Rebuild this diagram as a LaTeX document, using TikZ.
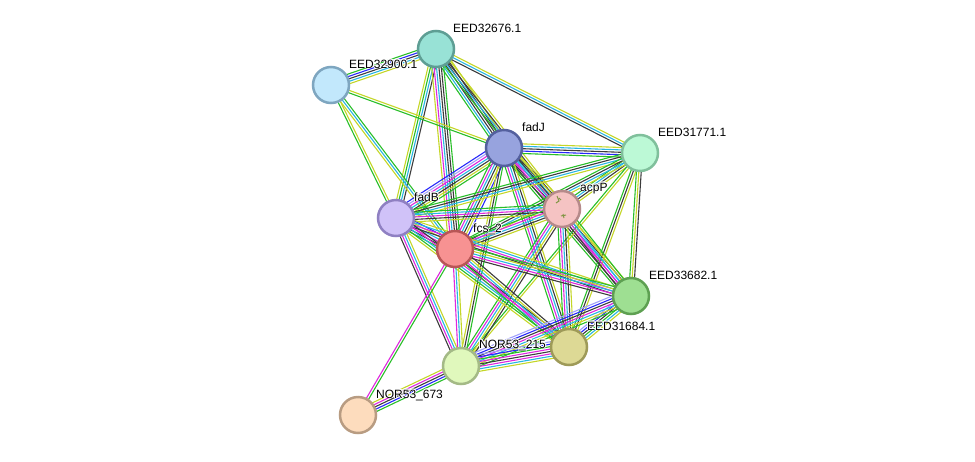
\documentclass[tikz,border=0pt]{standalone}
\usepackage{fontspec}
\setmainfont{Liberation Sans}
\usetikzlibrary{calc}
\pgfdeclarelayer{bg}
\pgfsetlayers{bg,main}
\definecolor{tm}{RGB}{196,214,40}
\definecolor{co}{RGB}{60,60,60}
\definecolor{db}{RGB}{40,182,226}
\definecolor{ex}{RGB}{222,40,222}
\definecolor{nb}{RGB}{40,190,40}
\definecolor{cc}{RGB}{40,40,250}
\definecolor{hm}{RGB}{160,160,250}
\tikzset{
  edge/.style={line width=1.1pt},
  prot/.style={circle,minimum size=36pt,inner sep=0pt,line width=2.5pt},
  lab/.style={anchor=base west,inner sep=0pt,font=\fontsize{12}{14}\selectfont}
}
\newcommand\hcopy[3]{\makebox[0pt][l]{\kern#1\raisebox{#2}{\color{white}#3}}}
\newcommand\halo[1]{\hcopy{0.9pt}{0pt}{#1}\hcopy{-0.9pt}{0pt}{#1}\hcopy{0pt}{0.9pt}{#1}\hcopy{0pt}{-0.9pt}{#1}\hcopy{0.65pt}{0.65pt}{#1}\hcopy{-0.65pt}{0.65pt}{#1}\hcopy{0.65pt}{-0.65pt}{#1}\hcopy{-0.65pt}{-0.65pt}{#1}#1}
\newcommand\bundle[3]{%
  \foreach \cx [count=\ii] in {#3} {\xdef\bundlen{\ii}}%
  \foreach \cx [count=\ii] in {#3} {%
    \pgfmathsetmacro\off{(\ii-(\bundlen+1)/2)*2.4}%
    \draw[edge,\cx] ($(#1.center)!\off pt!90:(#2.center)$) -- ($(#2.center)!\off pt!-90:(#1.center)$);
  }}
\begin{document}
\begin{tikzpicture}[x=1pt,y=-1pt]
\useasboundingbox (0,0) rectangle (975,461);
\node[prot,fill={rgb,255:red,152;green,226;blue,214},draw={rgb,255:red,94;green,158;blue,148}] (A) at (436,49) {};
\node[prot,fill={rgb,255:red,194;green,232;blue,252},draw={rgb,255:red,126;green,166;blue,192}] (B) at (331,85) {};
\node[prot,fill={rgb,255:red,151;green,163;blue,222},draw={rgb,255:red,84;green,96;blue,158}] (J) at (504,148) {};
\node[prot,fill={rgb,255:red,188;green,249;blue,214},draw={rgb,255:red,128;green,192;blue,156}] (C) at (640,153) {};
\node[prot,fill={rgb,255:red,245;green,195;blue,195},draw={rgb,255:red,181;green,138;blue,138}] (P) at (562,209) {};
\node[prot,fill={rgb,255:red,208;green,194;blue,248},draw={rgb,255:red,143;green,128;blue,194}] (F) at (396,218) {};
\node[prot,fill={rgb,255:red,247;green,146;blue,146},draw={rgb,255:red,184;green,86;blue,86}] (S) at (455,249) {};
\node[prot,fill={rgb,255:red,158;green,223;blue,146},draw={rgb,255:red,94;green,160;blue,82}] (G) at (631,296) {};
\node[prot,fill={rgb,255:red,221;green,217;blue,149},draw={rgb,255:red,158;green,154;blue,88}] (H) at (569,347) {};
\node[prot,fill={rgb,255:red,224;green,248;blue,188},draw={rgb,255:red,164;green,186;blue,134}] (N) at (461,366) {};
\node[prot,fill={rgb,255:red,253;green,220;blue,189},draw={rgb,255:red,184;green,156;blue,130}] (M) at (358,415) {};
% acpP structure marks
\draw[line width=1pt,color={rgb,255:red,130;green,150;blue,70}] (557,196) -- (559,201) -- (556,203) (559,198) -- (561,200);
\draw[line width=1pt,color={rgb,255:red,130;green,150;blue,70}] (561,216) -- (566,215) (563,214) -- (564,218);
% labels
\node[lab] (lA) at (453,32) {\halo{EED32676.1}};
\node[lab] (lB) at (349,68) {\halo{EED32900.1}};
\node[lab] (lJ) at (522,131) {\halo{fadJ}};
\node[lab] (lC) at (658,136) {\halo{EED31771.1}};
\node[lab] (lP) at (580,191) {\halo{acpP}};
\node[lab] (lF) at (414,201) {\halo{fadB}};
\node[lab] (lS) at (473,232) {\halo{fcs\_2}};
\node[lab] (lG) at (649,279) {\halo{EED33682.1}};
\node[lab] (lH) at (587,330) {\halo{EED31684.1}};
\node[lab] (lN) at (479,348) {\halo{NOR53\_215}};
\node[lab] (lM) at (376,398) {\halo{NOR53\_673}};
\begin{pgfonlayer}{bg}
\bundle{A}{B}{nb,cc,co,db,tm}
\bundle{A}{C}{co,db,tm}
\bundle{A}{J}{nb,db,co,co,co,tm}
\bundle{A}{P}{nb,db,co,tm}
\bundle{A}{F}{tm,nb,db,co}
\bundle{A}{S}{tm,ex,db,co,co,nb}
\bundle{B}{J}{nb,tm}
\bundle{B}{F}{nb,tm}
\bundle{B}{S}{tm,db,nb}
\bundle{J}{C}{nb,cc,co,db,tm}
\bundle{J}{P}{nb,co,ex,db,co,tm}
\bundle{J}{F}{cc,hm,ex,db,co,tm,nb}
\bundle{J}{S}{nb,ex,db,co,tm,cc}
\bundle{J}{G}{nb,co,ex,db,co,tm}
\bundle{J}{H}{nb,ex,db,co,tm}
\bundle{J}{N}{tm,co,nb}
\bundle{C}{P}{nb,db,co,tm}
\bundle{C}{F}{nb,co,db,tm}
\bundle{C}{S}{nb,co,db,tm}
\bundle{C}{G}{nb,tm,co}
\bundle{C}{H}{nb,co,tm}
\bundle{C}{N}{nb,tm}
\bundle{P}{F}{nb,db,ex,co,tm}
\bundle{P}{S}{nb,ex,db,co,tm}
\bundle{P}{G}{co,ex,db,tm,nb}
\bundle{P}{H}{nb,ex,db,co,tm}
\bundle{P}{N}{nb,ex,db,tm,co}
\bundle{F}{S}{nb,co,ex,db,tm,cc}
\bundle{F}{G}{co,ex,db,tm}
\bundle{F}{H}{tm,nb,db,ex,co}
\bundle{F}{N}{co,ex,db,tm}
\bundle{S}{G}{co,ex,db,tm,nb}
\bundle{S}{H}{nb,ex,db,tm,co}
\bundle{S}{N}{ex,db,tm}
\bundle{S}{M}{ex,nb}
\bundle{G}{H}{hm,cc,co,nb,db,tm}
\bundle{G}{N}{hm,cc,co,ex,db,tm,nb}
\bundle{H}{N}{hm,cc,nb,ex,co,ex,db,tm}
\bundle{N}{M}{tm,ex,co,cc,nb}
\end{pgfonlayer}
\end{tikzpicture}
\end{document}
